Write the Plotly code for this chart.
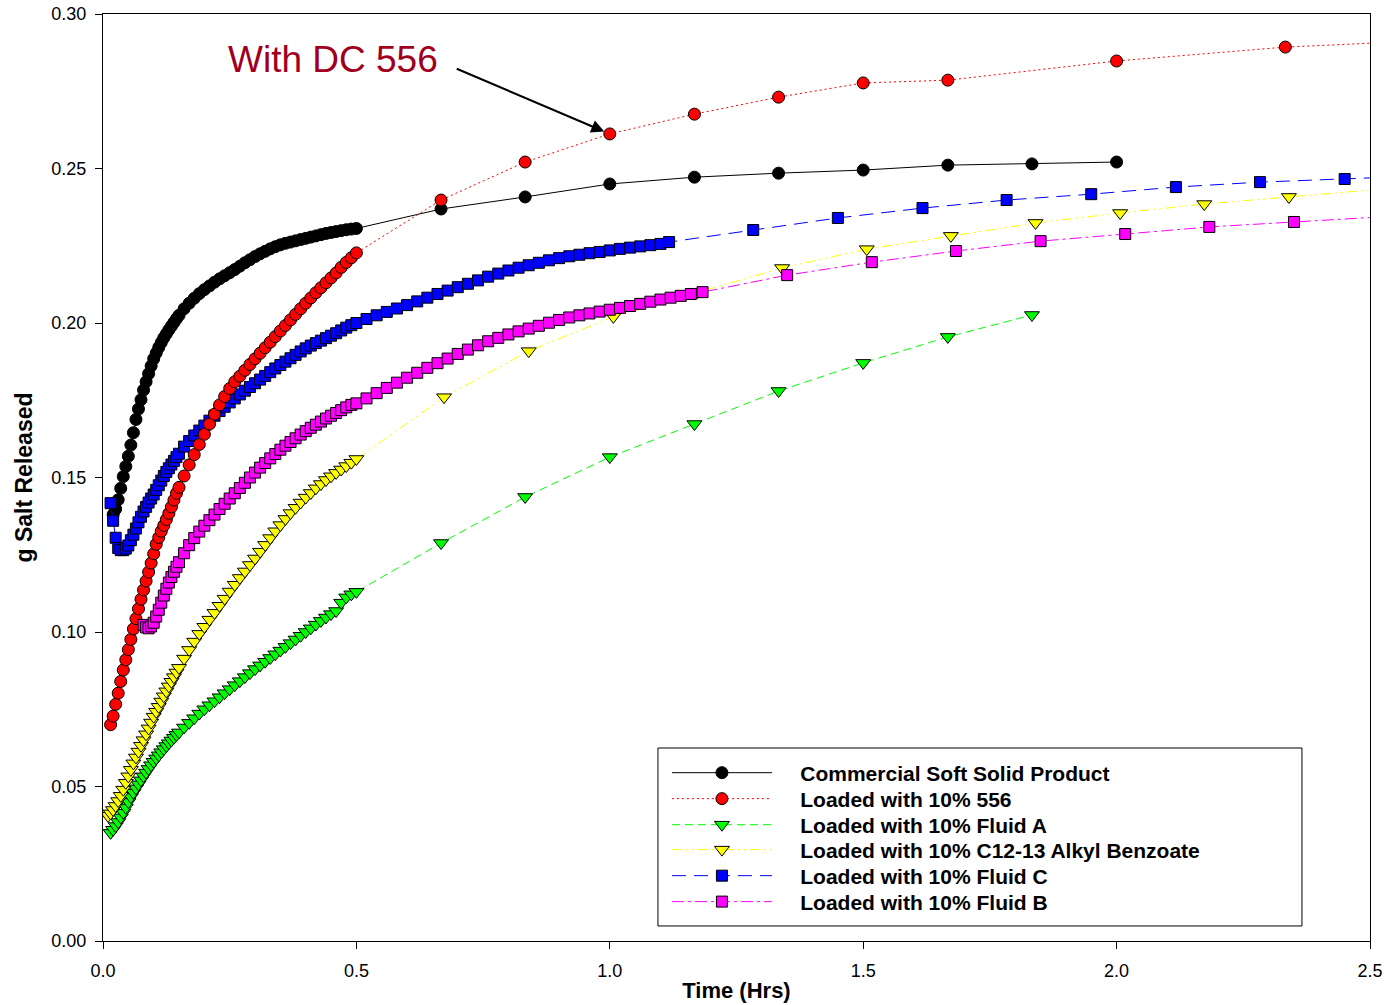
import plotly.graph_objects as go

# ---------------- data ----------------
t_dense = [0.010, 0.015, 0.020, 0.025, 0.030, 0.035, 0.040, 0.045, 0.050, 0.055,
           0.060, 0.065, 0.070, 0.075, 0.080, 0.085, 0.090, 0.095, 0.100, 0.105,
           0.110, 0.115, 0.120, 0.125, 0.130, 0.135, 0.140, 0.145, 0.150,
           0.16, 0.17, 0.18, 0.19, 0.20, 0.21, 0.22, 0.23, 0.24, 0.25,
           0.26, 0.27, 0.28, 0.29, 0.30, 0.31, 0.32, 0.33, 0.34, 0.35,
           0.36, 0.37, 0.38, 0.39, 0.40, 0.41, 0.42, 0.43, 0.44, 0.45,
           0.46, 0.47, 0.48, 0.49, 0.50]

commercial_dense = [None, None, 0.1380, 0.1398, 0.1428, 0.1465, 0.1503, 0.1536, 0.1569, 0.1605,
                    0.1645, 0.1688, 0.1722, 0.1752, 0.1783, 0.1810, 0.1836, 0.1861, 0.1884, 0.1903,
                    0.1921, 0.1937, 0.1952, 0.1965, 0.1978, 0.1990, 0.2002, 0.2014, 0.2025,
                    0.2046, 0.2064, 0.2080, 0.2095, 0.2108, 0.2120, 0.2132, 0.2143, 0.2153, 0.2163,
                    0.2173, 0.2184, 0.2195, 0.2205, 0.2215, 0.2224, 0.2232, 0.2240, 0.2247, 0.2253,
                    0.2258, 0.2262, 0.2266, 0.2270, 0.2274, 0.2278, 0.2282, 0.2286, 0.2290, 0.2293,
                    0.2296, 0.2299, 0.2302, 0.2304, 0.2306]
commercial_t_sparse = [0.667, 0.833, 1.0, 1.167, 1.333, 1.5, 1.667, 1.833, 2.0]
commercial_sparse = [0.2369, 0.2408, 0.2450, 0.2472, 0.2485, 0.2495, 0.2511, 0.2515, 0.2521]

dc556_dense = [None, 0.0700, 0.0728, 0.0766, 0.0802, 0.0840, 0.0877, 0.0910, 0.0943, 0.0976,
               0.1010, 0.1043, 0.1075, 0.1106, 0.1136, 0.1165, 0.1194, 0.1223, 0.1253, 0.1284,
               0.1306, 0.1326, 0.1345, 0.1364, 0.1384, 0.1405, 0.1427, 0.1449, 0.1468,
               0.1505, 0.1541, 0.1574, 0.1607, 0.1640, 0.1673, 0.1705, 0.1735, 0.1762, 0.1788,
               0.1810, 0.1828, 0.1847, 0.1866, 0.1884, 0.1902, 0.1920, 0.1938, 0.1956, 0.1974,
               0.1992, 0.2010, 0.2028, 0.2046, 0.2064, 0.2081, 0.2098, 0.2114, 0.2130, 0.2146,
               0.2162, 0.2180, 0.2196, 0.2211, 0.2227]
dc556_t_sparse = [0.667, 0.833, 1.0, 1.167, 1.333, 1.5, 1.667, 2.0, 2.333, 2.667]
dc556_sparse = [0.2398, 0.2521, 0.2612, 0.2676, 0.2731, 0.2777, 0.2786, 0.2848, 0.2893, 0.2918]

fluidA_dense = [None, 0.0350, 0.0360, 0.0372, 0.0385, 0.0400, 0.0415, 0.0432, 0.0450, 0.0466,
                0.0480, 0.0494, 0.0507, 0.0520, 0.0533, 0.0545, 0.0557, 0.0569, 0.0580, 0.0591,
                0.0601, 0.0611, 0.0621, 0.0631, 0.0640, 0.0649, 0.0658, 0.0667, 0.0675,
                0.0691, 0.0706, 0.0721, 0.0736, 0.0750, 0.0763, 0.0776, 0.0789, 0.0802, 0.0815,
                0.0828, 0.0841, 0.0854, 0.0867, 0.0880, 0.0892, 0.0904, 0.0916, 0.0928, 0.0940,
                0.0952, 0.0964, 0.0976, 0.0988, 0.1000, 0.1012, 0.1024, 0.1036, 0.1047, 0.1058,
                0.1068, 0.1095, 0.1112, 0.1122, 0.1130]
fluidA_t_sparse = [0.667, 0.833, 1.0, 1.167, 1.333, 1.5, 1.667, 1.833]
fluidA_sparse = [0.1288, 0.1437, 0.1566, 0.1673, 0.1780, 0.1871, 0.1955, 0.2026]

alkyl_dense = [0.0405, 0.0413, 0.0424, 0.0437, 0.0453, 0.0470, 0.0490, 0.0512, 0.0533, 0.0554,
               0.0575, 0.0594, 0.0613, 0.0632, 0.0650, 0.0669, 0.0688, 0.0707, 0.0726, 0.0742,
               0.0758, 0.0775, 0.0792, 0.0808, 0.0824, 0.0839, 0.0854, 0.0869, 0.0884,
               0.0914, 0.0942, 0.0969, 0.0994, 0.1017, 0.1040, 0.1062, 0.1085, 0.1108, 0.1131,
               0.1153, 0.1175, 0.1196, 0.1217, 0.1238, 0.1260, 0.1282, 0.1304, 0.1326, 0.1346,
               0.1366, 0.1385, 0.1402, 0.1419, 0.1435, 0.1450, 0.1465, 0.1479, 0.1492, 0.1504,
               0.1515, 0.1526, 0.1537, 0.1548, 0.1560]
alkyl_t_sparse = [0.673, 0.840, 1.007, 1.173, 1.340, 1.507, 1.673, 1.840, 2.007, 2.173, 2.340, 2.673]
alkyl_sparse = [0.1760, 0.1909, 0.2020, 0.2100, 0.2178, 0.2239, 0.2282, 0.2324, 0.2356, 0.2385, 0.2408, 0.2454]

fluidC_dense = [None, 0.1417, 0.1360, 0.1305, 0.1272, 0.1265, 0.1265, 0.1270, 0.1280, 0.1297,
                0.1315, 0.1335, 0.1355, 0.1373, 0.1390, 0.1405, 0.1419, 0.1432, 0.1445, 0.1460,
                0.1475, 0.1490, 0.1505, 0.1518, 0.1530, 0.1542, 0.1554, 0.1566, 0.1577,
                0.1600, 0.1618, 0.1636, 0.1652, 0.1668, 0.1684, 0.1700, 0.1715, 0.1729, 0.1743,
                0.1756, 0.1769, 0.1781, 0.1793, 0.1805, 0.1817, 0.1829, 0.1841, 0.1853, 0.1864,
                0.1875, 0.1886, 0.1897, 0.1908, 0.1918, 0.1927, 0.1935, 0.1943, 0.1951, 0.1959,
                0.1967, 0.1976, 0.1985, 0.1993, 0.2000]
fluidC_t_ext = [0.52, 0.54, 0.56, 0.58, 0.60, 0.62, 0.64, 0.66, 0.68, 0.70,
                0.72, 0.74, 0.76, 0.78, 0.80, 0.82, 0.84, 0.86, 0.88, 0.90,
                0.92, 0.94, 0.96, 0.98, 1.00, 1.02, 1.04, 1.06, 1.08, 1.10, 1.117]
fluidC_ext = [0.2013, 0.2025, 0.2036, 0.2047, 0.2058, 0.2070, 0.2082, 0.2094, 0.2105, 0.2116,
              0.2127, 0.2138, 0.2150, 0.2160, 0.2170, 0.2179, 0.2187, 0.2195, 0.2203, 0.2210,
              0.2216, 0.2221, 0.2226, 0.2230, 0.2235, 0.2240, 0.2244, 0.2248, 0.2252, 0.2256, 0.2262]
fluidC_t_sparse = [1.283, 1.450, 1.617, 1.783, 1.950, 2.117, 2.283, 2.450, 2.617]
fluidC_sparse = [0.2301, 0.2340, 0.2372, 0.2398, 0.2417, 0.2440, 0.2456, 0.2466, 0.2477]

fluidB_dense = [None, None, None, None, None, None, None, None, None, None,
                None, None, None, None, 0.1023, 0.1015, 0.1012, 0.1018, 0.1030, 0.1050,
                0.1072, 0.1095, 0.1118, 0.1140, 0.1160, 0.1178, 0.1195, 0.1211, 0.1226,
                0.1255, 0.1281, 0.1304, 0.1325, 0.1344, 0.1362, 0.1380, 0.1398, 0.1415, 0.1432,
                0.1449, 0.1466, 0.1483, 0.1500, 0.1516, 0.1532, 0.1547, 0.1562, 0.1576, 0.1590,
                0.1603, 0.1615, 0.1627, 0.1639, 0.1650, 0.1661, 0.1671, 0.1681, 0.1691, 0.1700,
                0.1709, 0.1718, 0.1727, 0.1735, 0.1740]
fluidB_t_ext = [0.52, 0.54, 0.56, 0.58, 0.60, 0.62, 0.64, 0.66, 0.68, 0.70,
                0.72, 0.74, 0.76, 0.78, 0.80, 0.82, 0.84, 0.86, 0.88, 0.90,
                0.92, 0.94, 0.96, 0.98, 1.00, 1.02, 1.04, 1.06, 1.08, 1.10,
                1.12, 1.14, 1.16, 1.183]
fluidB_ext = [0.1756, 0.1773, 0.1790, 0.1807, 0.1823, 0.1839, 0.1855, 0.1870, 0.1885, 0.1900,
              0.1914, 0.1928, 0.1941, 0.1952, 0.1963, 0.1973, 0.1982, 0.1991, 0.2001, 0.2010,
              0.2018, 0.2025, 0.2031, 0.2037, 0.2043, 0.2049, 0.2055, 0.2062, 0.2069, 0.2076,
              0.2082, 0.2088, 0.2094, 0.2100]
fluidB_t_sparse = [1.350, 1.517, 1.683, 1.850, 2.017, 2.183, 2.350, 2.517]
fluidB_sparse = [0.2155, 0.2197, 0.2233, 0.2265, 0.2288, 0.2311, 0.2327, 0.2343]

x_ticks = [0.0, 0.5, 1.0, 1.5, 2.0, 2.5]
y_ticks = [0.00, 0.05, 0.10, 0.15, 0.20, 0.25, 0.30]

FONT = "Arial, 'Liberation Sans', sans-serif"
PAD = "\u00a0" * 4


def join(dense, parts):
    xs, ys = [], []
    for t, v in zip(t_dense, dense):
        if v is not None:
            xs.append(t)
            ys.append(v)
    for tx, vy in parts:
        xs += list(tx)
        ys += list(vy)
    return xs, ys


# drawing order (later on top); last field = legend row (0 = top)
series = [
    ("Commercial Soft Solid Product", commercial_dense,
     [(commercial_t_sparse, commercial_sparse)], "black", "solid", "circle", 12, 0),
    ("Loaded with 10% Fluid C", fluidC_dense,
     [(fluidC_t_ext, fluidC_ext), (fluidC_t_sparse, fluidC_sparse)], "#0000FF", "14px,8px", "square", 11, 4),
    ("Loaded with 10% 556", dc556_dense,
     [(dc556_t_sparse, dc556_sparse)], "#FF0000", "2px,3px", "circle", 12, 1),
    ("Loaded with 10% Fluid A", fluidA_dense,
     [(fluidA_t_sparse, fluidA_sparse)], "#00FF00", "8px,5px", "triangle-down", 13, 2),
    ("Loaded with 10% C12-13 Alkyl Benzoate", alkyl_dense,
     [(alkyl_t_sparse, alkyl_sparse)], "#FFFF00", "10px,4px,2px,4px,2px,4px", "triangle-down", 13, 3),
    ("Loaded with 10% Fluid B", fluidB_dense,
     [(fluidB_t_ext, fluidB_ext), (fluidB_t_sparse, fluidB_sparse)], "#FF00FF", "12px,4px,3px,4px", "square", 11, 5),
]

# legend rows (paper coords)
legend_row_y = [0.1812, 0.1532, 0.1251, 0.0982, 0.0701, 0.0421]
legend_x = 0.4451

fig = go.Figure()
legends = {}
for name, dense, parts, color, dash, symbol, size, row in series:
    xs, ys = join(dense, parts)
    key = "legend" if row == 0 else f"legend{row + 1}"
    fig.add_trace(go.Scatter(
        x=xs, y=ys, mode="lines+markers", name=PAD + name,
        legend=key,
        line=dict(color=color, width=1, dash=dash),
        marker=dict(symbol=symbol, size=size, color=color,
                    line=dict(color="black", width=1)),
    ))
    legends[key] = dict(x=legend_x, y=legend_row_y[row], xanchor="left", yanchor="middle",
                        bgcolor="rgba(0,0,0,0)", borderwidth=0, itemwidth=100,
                        font=dict(family=FONT, size=21, color="black", weight="bold"))

# annotation with arrow pointing at the 1.0 h point of the 556 series
fig.add_annotation(x=0.454, y=0.2852, xref="x", yref="y", text="With DC 556",
                   showarrow=False, font=dict(family=FONT, size=37, color="#A0001E"))
fig.add_annotation(x=dc556_t_sparse[2], y=dc556_sparse[2], xref="x", yref="y",
                   ax=0.695, ay=0.2825, axref="x", ayref="y", text="",
                   showarrow=True, arrowhead=2, arrowsize=1.3, arrowwidth=2,
                   arrowcolor="black", standoff=6)

# legend box
fig.add_shape(type="rect", xref="paper", yref="paper",
              x0=0.4380, x1=0.9463, y0=0.0162, y1=0.2082,
              line=dict(color="black", width=1), fillcolor="rgba(0,0,0,0)", layer="above")

fig.update_layout(
    width=1389, height=1005,
    margin=dict(l=103, r=19, t=14, b=64, autoexpand=False),
    plot_bgcolor="white", paper_bgcolor="white",
    font=dict(family=FONT, color="black", size=18),
    showlegend=True,
    xaxis=dict(range=[0, 2.5], tickvals=x_ticks, tickformat=".1f",
               ticks="outside", ticklen=7, tickwidth=1, tickcolor="black",
               showline=True, linecolor="black", linewidth=1, mirror=True,
               showgrid=False, zeroline=False, ticklabelstandoff=6,
               automargin=False, ticklabeloverflow="allow",
               tickfont=dict(family=FONT, size=18),
               title=dict(text="<b>Time (Hrs)</b>", font=dict(family=FONT, size=22), standoff=3)),
    yaxis=dict(range=[0, 0.30001], tickvals=y_ticks, tickformat=".2f",
               ticks="outside", ticklen=7, tickwidth=1, tickcolor="black",
               showline=True, linecolor="black", linewidth=1, mirror=True,
               showgrid=False, zeroline=False, ticklabelstandoff=5,
               automargin=False, ticklabeloverflow="allow",
               tickfont=dict(family=FONT, size=18),
               title=dict(text="<b>g Salt Released</b>", font=dict(family=FONT, size=23), standoff=12)),
    **legends,
)

fig.write_html("out.html", config={"displayModeBar": False},
               post_script="document.body.style.margin='0';document.body.style.overflow='hidden';")
